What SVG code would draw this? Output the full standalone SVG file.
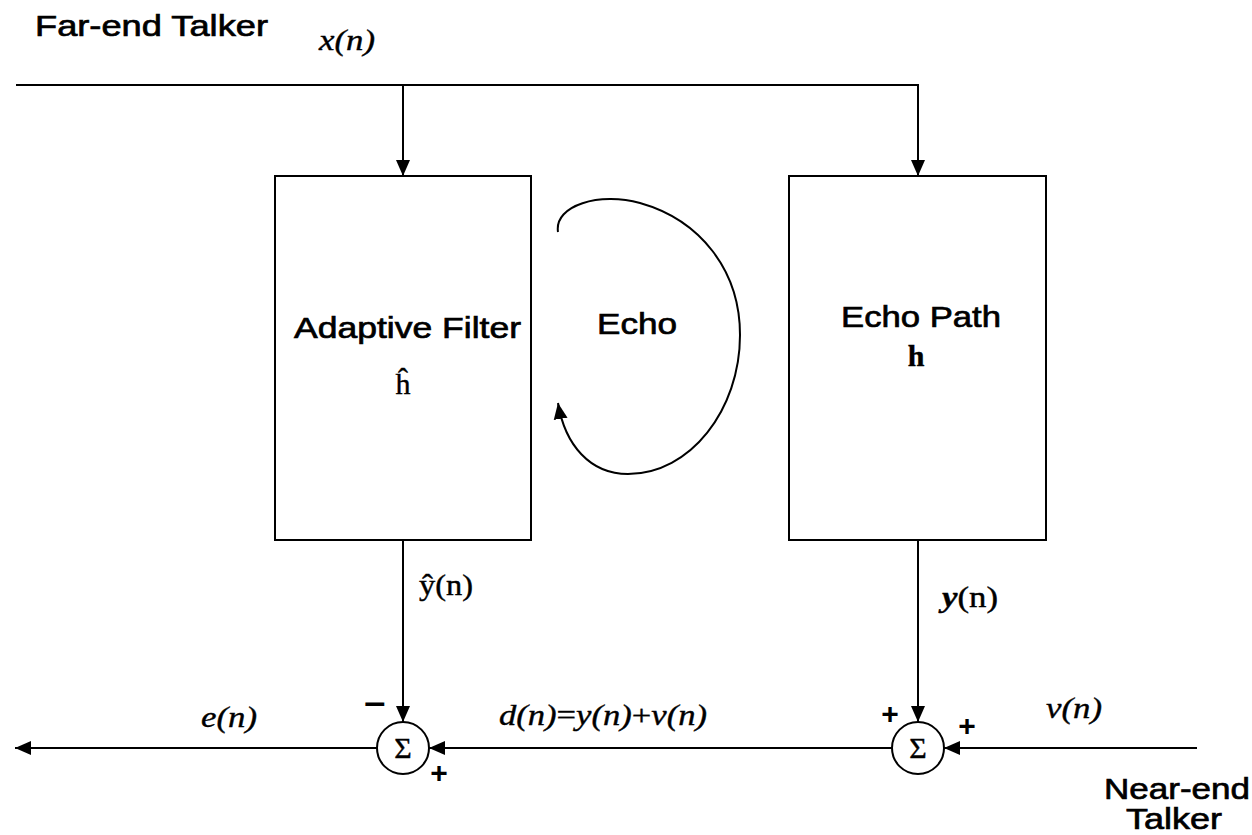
<svg xmlns="http://www.w3.org/2000/svg" width="1252" height="835" viewBox="0 0 1252 835">
<style>
.sans{font-family:"Liberation Sans",Arial,sans-serif;font-size:30px;fill:#000;stroke:#000;stroke-width:0.7}
.math{font-family:"Liberation Serif","Times New Roman",serif;font-size:30px;fill:#000;stroke:#000;stroke-width:0.4}
.it{font-style:italic}
.box{fill:#fff;stroke:#000;stroke-width:2}
.sum{fill:#fff;stroke:#000;stroke-width:2}
.wire{fill:none;stroke:#000;stroke-width:2}
.sign{font-family:"Liberation Sans",Arial,sans-serif;font-size:30px;font-weight:bold;fill:#000}
</style>
<defs>
<marker id="ah" markerUnits="userSpaceOnUse" markerWidth="18" markerHeight="16" refX="16" refY="8" orient="auto">
<path d="M0,1 L16,8 L0,15 z" fill="#000"/>
</marker>
</defs>
<rect width="1252" height="835" fill="#fff"/>

<g id="labels">
<text class="sans" x="35" y="36" textLength="233" lengthAdjust="spacingAndGlyphs">Far-end Talker</text>
<text class="math it" x="319" y="50" textLength="56" lengthAdjust="spacingAndGlyphs">x(n)</text>
<text class="math it" x="201" y="727" textLength="56" lengthAdjust="spacingAndGlyphs">e(n)</text>
<text class="math" x="499" y="725" textLength="208" lengthAdjust="spacingAndGlyphs"><tspan font-style="italic">d(n)</tspan>=<tspan font-style="italic">y(n)</tspan>+<tspan font-style="italic">v(n)</tspan></text>
<text class="math it" x="1046" y="718" textLength="56" lengthAdjust="spacingAndGlyphs">v(n)</text>
<text class="sans" x="1104" y="799" textLength="146" lengthAdjust="spacingAndGlyphs">Near-end</text>
<text class="sans" x="1126" y="829" textLength="96" lengthAdjust="spacingAndGlyphs">Talker</text>
<text class="sans" x="597" y="334" textLength="80" lengthAdjust="spacingAndGlyphs">Echo</text>
</g>

<g id="adaptive-filter">
<rect class="box" x="275" y="176" width="256" height="364"/>
<text class="sans" x="294" y="338" textLength="227" lengthAdjust="spacingAndGlyphs">Adaptive Filter</text>
<text class="math" x="403" y="394" text-anchor="middle">ĥ</text>
</g>

<g id="echo-path">
<rect class="box" x="789" y="176" width="257" height="364"/>
<text class="sans" x="841" y="327" textLength="160" lengthAdjust="spacingAndGlyphs">Echo Path</text>
<text class="math" x="916" y="366" text-anchor="middle" font-weight="bold">h</text>
</g>

<g id="sum-left">
<circle class="sum" cx="403" cy="748" r="26"/>
<text class="math" x="403" y="758" text-anchor="middle" font-size="27">Σ</text>
<text class="sign" x="375" y="714" text-anchor="middle" textLength="22" lengthAdjust="spacingAndGlyphs">−</text>
<text class="sign" x="439" y="783" text-anchor="middle">+</text>
</g>

<g id="sum-right">
<circle class="sum" cx="918" cy="748" r="26"/>
<text class="math" x="918" y="758" text-anchor="middle" font-size="27">Σ</text>
<text class="sign" x="890" y="724" text-anchor="middle">+</text>
<text class="sign" x="967" y="736" text-anchor="middle">+</text>
</g>

<g id="connectors">
<line class="wire" x1="16" y1="85" x2="919" y2="85"/>
<line class="wire" x1="403" y1="85" x2="403" y2="176" marker-end="url(#ah)"/>
<line class="wire" x1="918" y1="85" x2="918" y2="176" marker-end="url(#ah)"/>
<line class="wire" x1="403" y1="540" x2="403" y2="722" marker-end="url(#ah)"/>
<line class="wire" x1="918" y1="540" x2="918" y2="722" marker-end="url(#ah)"/>
<line class="wire" x1="1197" y1="748" x2="944" y2="748" marker-end="url(#ah)"/>
<line class="wire" x1="892" y1="748" x2="429" y2="748" marker-end="url(#ah)"/>
<line class="wire" x1="377" y1="748" x2="15" y2="748" marker-end="url(#ah)"/>
<path class="wire" d="M558,232 C554,205 600,192 640,203 C700,220 740,270 740,335 C740,410 690,474 628,474 C590,474 565,445 558,403" marker-end="url(#ah)"/>
<text class="math" x="419" y="595" textLength="54" lengthAdjust="spacingAndGlyphs">ŷ(n)</text>
<text class="math" x="942" y="607" textLength="56" lengthAdjust="spacingAndGlyphs"><tspan font-style="italic" font-weight="bold">y</tspan>(n)</text>
</g>
</svg>
